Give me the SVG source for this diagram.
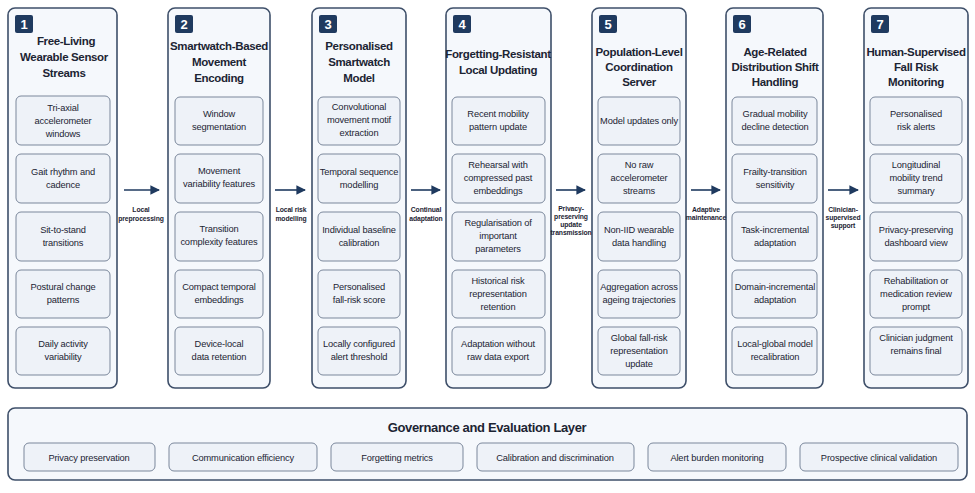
<svg xmlns="http://www.w3.org/2000/svg" width="975" height="493" viewBox="0 0 975 493">
<defs>
<style>
.col{fill:#f5f8fc;stroke:#3e4f69;stroke-width:1.6}
.in{fill:#eef2f8;stroke:#7a879b;stroke-width:1}
.badge{fill:#1f3a5f}
.bn{font-family:"Liberation Sans",Arial,sans-serif;font-size:13px;font-weight:bold;fill:#fff;text-anchor:middle}
.t{font-family:"Liberation Sans",Arial,sans-serif;font-size:11.5px;font-weight:bold;fill:#1c2433;text-anchor:middle;letter-spacing:-0.35px}
.s{font-family:"Liberation Sans",Arial,sans-serif;font-size:9.3px;fill:#1c2433;text-anchor:middle;letter-spacing:-0.15px}
.l{font-family:"Liberation Sans",Arial,sans-serif;font-size:6.8px;font-weight:bold;fill:#1c2433;text-anchor:middle;letter-spacing:-0.1px}
.a{stroke:#1f3a5f;stroke-width:1.6;fill:none}
</style>
<marker id="ar" viewBox="0 0 10 10" refX="9" refY="5" markerWidth="6" markerHeight="6" orient="auto"><path d="M0,0L10,5L0,10z" fill="#1f3a5f"/></marker>
</defs>
<rect width="975" height="493" fill="#fff"/>

<g id="n1">
<rect class="col" x="8" y="8" width="109" height="380" rx="7"/>
<rect class="badge" x="15" y="15" width="18" height="18" rx="2"/><text class="bn" x="24" y="29">1</text>
<text class="t" x="66" y="45">Free-Living</text><text class="t" x="64" y="61">Wearable Sensor</text><text class="t" x="64" y="77">Streams</text>
<rect class="in" x="16" y="96" width="94" height="49" rx="5"/><text class="s" x="63" y="111">Tri-axial</text><text class="s" x="63" y="124">accelerometer</text><text class="s" x="63" y="137">windows</text>
<rect class="in" x="16" y="154" width="94" height="49" rx="5"/><text class="s" x="63" y="175">Gait rhythm and</text><text class="s" x="63" y="188">cadence</text>
<rect class="in" x="16" y="212" width="94" height="49" rx="5"/><text class="s" x="63" y="233">Sit-to-stand</text><text class="s" x="63" y="246">transitions</text>
<rect class="in" x="16" y="270" width="94" height="48" rx="5"/><text class="s" x="63" y="290">Postural change</text><text class="s" x="63" y="303">patterns</text>
<rect class="in" x="16" y="327" width="94" height="48" rx="5"/><text class="s" x="63" y="347">Daily activity</text><text class="s" x="63" y="360">variability</text>
</g>

<g id="n2">
<rect class="col" x="168" y="8" width="102" height="380" rx="7"/>
<rect class="badge" x="175" y="15" width="18" height="18" rx="2"/><text class="bn" x="184" y="29">2</text>
<text class="t" x="219" y="50">Smartwatch-Based</text><text class="t" x="219" y="66">Movement</text><text class="t" x="219" y="82">Encoding</text>
<rect class="in" x="175" y="97" width="88" height="48" rx="5"/><text class="s" x="219" y="117">Window</text><text class="s" x="219" y="130">segmentation</text>
<rect class="in" x="175" y="154" width="88" height="49" rx="5"/><text class="s" x="219" y="174">Movement</text><text class="s" x="219" y="187">variability features</text>
<rect class="in" x="175" y="212" width="88" height="49" rx="5"/><text class="s" x="219" y="232">Transition</text><text class="s" x="219" y="245">complexity features</text>
<rect class="in" x="175" y="270" width="88" height="48" rx="5"/><text class="s" x="219" y="290">Compact temporal</text><text class="s" x="219" y="303">embeddings</text>
<rect class="in" x="175" y="327" width="88" height="48" rx="5"/><text class="s" x="219" y="347">Device-local</text><text class="s" x="219" y="360">data retention</text>
</g>

<g id="n3">
<rect class="col" x="312" y="8" width="94" height="380" rx="7"/>
<rect class="badge" x="319" y="15" width="18" height="18" rx="2"/><text class="bn" x="328" y="29">3</text>
<text class="t" x="359" y="50">Personalised</text><text class="t" x="359" y="66">Smartwatch</text><text class="t" x="359" y="82">Model</text>
<rect class="in" x="318" y="97" width="82" height="48" rx="5"/><text class="s" x="359" y="110">Convolutional</text><text class="s" x="359" y="123">movement motif</text><text class="s" x="359" y="136">extraction</text>
<rect class="in" x="318" y="154" width="82" height="49" rx="5"/><text class="s" x="359" y="175">Temporal sequence</text><text class="s" x="359" y="188">modelling</text>
<rect class="in" x="318" y="212" width="82" height="49" rx="5"/><text class="s" x="359" y="233">Individual baseline</text><text class="s" x="359" y="246">calibration</text>
<rect class="in" x="318" y="270" width="82" height="48" rx="5"/><text class="s" x="359" y="290">Personalised</text><text class="s" x="359" y="303">fall-risk score</text>
<rect class="in" x="318" y="327" width="82" height="48" rx="5"/><text class="s" x="359" y="347">Locally configured</text><text class="s" x="359" y="360">alert threshold</text>
</g>

<g id="n4">
<rect class="col" x="446" y="8" width="105" height="380" rx="7"/>
<rect class="badge" x="453" y="15" width="18" height="18" rx="2"/><text class="bn" x="462" y="29">4</text>
<text class="t" x="498" y="58">Forgetting-Resistant</text><text class="t" x="498" y="74">Local Updating</text>
<rect class="in" x="452" y="97" width="93" height="48" rx="5"/><text class="s" x="498" y="117">Recent mobility</text><text class="s" x="498" y="130">pattern update</text>
<rect class="in" x="452" y="154" width="93" height="49" rx="5"/><text class="s" x="498" y="168">Rehearsal with</text><text class="s" x="498" y="181">compressed past</text><text class="s" x="498" y="194">embeddings</text>
<rect class="in" x="452" y="212" width="93" height="49" rx="5"/><text class="s" x="498" y="226">Regularisation of</text><text class="s" x="498" y="239">important</text><text class="s" x="498" y="252">parameters</text>
<rect class="in" x="452" y="270" width="93" height="48" rx="5"/><text class="s" x="498" y="284">Historical risk</text><text class="s" x="498" y="297">representation</text><text class="s" x="498" y="310">retention</text>
<rect class="in" x="452" y="327" width="93" height="48" rx="5"/><text class="s" x="498" y="347">Adaptation without</text><text class="s" x="498" y="360">raw data export</text>
</g>

<g id="n5">
<rect class="col" x="592" y="8" width="94" height="380" rx="7"/>
<rect class="badge" x="599" y="15" width="18" height="18" rx="2"/><text class="bn" x="608" y="29">5</text>
<text class="t" x="639" y="56">Population-Level</text><text class="t" x="639" y="71">Coordination</text><text class="t" x="639" y="86">Server</text>
<rect class="in" x="598" y="97" width="82" height="48" rx="5"/><text class="s" x="639" y="124">Model updates only</text>
<rect class="in" x="598" y="154" width="82" height="49" rx="5"/><text class="s" x="639" y="168">No raw</text><text class="s" x="639" y="181">accelerometer</text><text class="s" x="639" y="194">streams</text>
<rect class="in" x="598" y="212" width="82" height="49" rx="5"/><text class="s" x="639" y="233">Non-IID wearable</text><text class="s" x="639" y="246">data handling</text>
<rect class="in" x="598" y="270" width="82" height="48" rx="5"/><text class="s" x="639" y="290">Aggregation across</text><text class="s" x="639" y="303">ageing trajectories</text>
<rect class="in" x="598" y="327" width="82" height="48" rx="5"/><text class="s" x="639" y="341">Global fall-risk</text><text class="s" x="639" y="354">representation</text><text class="s" x="639" y="367">update</text>
</g>

<g id="n6">
<rect class="col" x="726" y="8" width="97" height="380" rx="7"/>
<rect class="badge" x="733" y="15" width="18" height="18" rx="2"/><text class="bn" x="742" y="29">6</text>
<text class="t" x="775" y="56">Age-Related</text><text class="t" x="775" y="71">Distribution Shift</text><text class="t" x="775" y="86">Handling</text>
<rect class="in" x="732" y="97" width="85" height="48" rx="5"/><text class="s" x="775" y="117">Gradual mobility</text><text class="s" x="775" y="130">decline detection</text>
<rect class="in" x="732" y="154" width="85" height="49" rx="5"/><text class="s" x="775" y="175">Frailty-transition</text><text class="s" x="775" y="188">sensitivity</text>
<rect class="in" x="732" y="212" width="85" height="49" rx="5"/><text class="s" x="775" y="233">Task-incremental</text><text class="s" x="775" y="246">adaptation</text>
<rect class="in" x="732" y="270" width="85" height="48" rx="5"/><text class="s" x="775" y="290">Domain-incremental</text><text class="s" x="775" y="303">adaptation</text>
<rect class="in" x="732" y="327" width="85" height="48" rx="5"/><text class="s" x="775" y="347">Local-global model</text><text class="s" x="775" y="360">recalibration</text>
</g>

<g id="n7">
<rect class="col" x="864" y="8" width="104" height="380" rx="7"/>
<rect class="badge" x="871" y="15" width="18" height="18" rx="2"/><text class="bn" x="880" y="29">7</text>
<text class="t" x="916" y="56">Human-Supervised</text><text class="t" x="916" y="71">Fall Risk</text><text class="t" x="916" y="86">Monitoring</text>
<rect class="in" x="870" y="97" width="92" height="48" rx="5"/><text class="s" x="916" y="117">Personalised</text><text class="s" x="916" y="130">risk alerts</text>
<rect class="in" x="870" y="154" width="92" height="49" rx="5"/><text class="s" x="916" y="168">Longitudinal</text><text class="s" x="916" y="181">mobility trend</text><text class="s" x="916" y="194">summary</text>
<rect class="in" x="870" y="212" width="92" height="49" rx="5"/><text class="s" x="916" y="233">Privacy-preserving</text><text class="s" x="916" y="246">dashboard view</text>
<rect class="in" x="870" y="270" width="92" height="48" rx="5"/><text class="s" x="916" y="284">Rehabilitation or</text><text class="s" x="916" y="297">medication review</text><text class="s" x="916" y="310">prompt</text>
<rect class="in" x="870" y="327" width="92" height="48" rx="5"/><text class="s" x="916" y="341">Clinician judgment</text><text class="s" x="916" y="354">remains final</text>
</g>

<g id="connectors">
<line class="a" x1="124" y1="190" x2="159" y2="190" marker-end="url(#ar)"/>
<text class="l" x="141" y="212">Local</text><text class="l" x="141" y="221">preprocessing</text>
<line class="a" x1="275" y1="190" x2="305" y2="190" marker-end="url(#ar)"/>
<text class="l" x="291" y="212">Local risk</text><text class="l" x="291" y="221">modelling</text>
<line class="a" x1="411" y1="190" x2="440" y2="190" marker-end="url(#ar)"/>
<text class="l" x="426" y="212">Continual</text><text class="l" x="426" y="221">adaptation</text>
<line class="a" x1="556" y1="190" x2="585" y2="190" marker-end="url(#ar)"/>
<text class="l" x="571" y="211">Privacy-</text><text class="l" x="571" y="219">preserving</text><text class="l" x="571" y="227">update</text><text class="l" x="571" y="235">transmission</text>
<line class="a" x1="691" y1="190" x2="720" y2="190" marker-end="url(#ar)"/>
<text class="l" x="706" y="212">Adaptive</text><text class="l" x="706" y="220">maintenance</text>
<line class="a" x1="828" y1="190" x2="858" y2="190" marker-end="url(#ar)"/>
<text class="l" x="843" y="212">Clinician-</text><text class="l" x="843" y="220">supervised</text><text class="l" x="843" y="228">support</text>
</g>

<g id="governance">
<rect class="col" x="8" y="408" width="959" height="72" rx="7"/>
<text class="t" x="487" y="432" style="font-size:13px">Governance and Evaluation Layer</text>
<rect class="in" x="24" y="443" width="131" height="28" rx="5"/><text class="s" x="89" y="461">Privacy preservation</text>
<rect class="in" x="169" y="443" width="148" height="28" rx="5"/><text class="s" x="243" y="461">Communication efficiency</text>
<rect class="in" x="331" y="443" width="132" height="28" rx="5"/><text class="s" x="397" y="461">Forgetting metrics</text>
<rect class="in" x="477" y="443" width="157" height="28" rx="5"/><text class="s" x="555" y="461">Calibration and discrimination</text>
<rect class="in" x="648" y="443" width="138" height="28" rx="5"/><text class="s" x="717" y="461">Alert burden monitoring</text>
<rect class="in" x="800" y="443" width="158" height="28" rx="5"/><text class="s" x="879" y="461">Prospective clinical validation</text>
</g>
</svg>
